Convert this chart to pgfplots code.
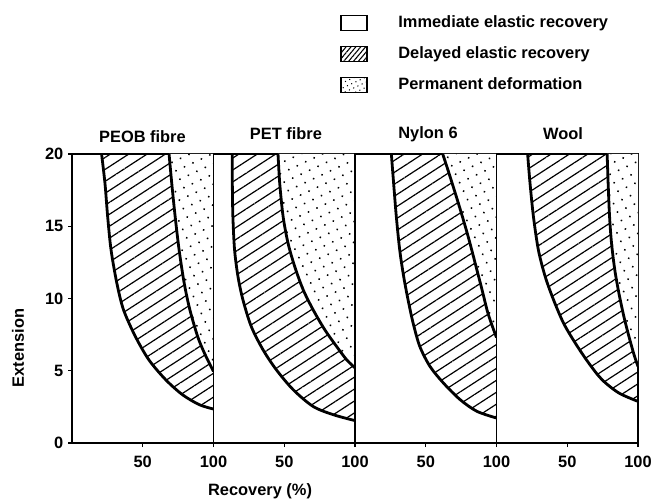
\documentclass[border=0pt]{standalone}
\usepackage{fontspec}
\setmainfont{Liberation Sans}
\usepackage{pgfplots}
\pgfplotsset{compat=1.18}
\usepackage{pgfplotstable}
\usetikzlibrary{patterns.meta}

\newcommand\lbl{\bfseries\fontsize{12.3}{14}\selectfont}

% curves: x = recovery (%), y = extension; first row closes the fill along the border
\pgfplotstableread{
x y
100 20
20.9 20
23.3 17.97
25.2 15.67
27.6 13.36
31.7 11.06
36.4 9.22
44.8 7.37
54.3 5.76
66.2 4.38
78.1 3.34
90.0 2.65
100 2.35
}\peobL
\pgfplotstableread{
x y
100 20
68.6 20
70.5 17.97
72.9 15.67
75.7 13.36
79.3 11.06
83.3 9.22
88.8 7.37
93.6 6.22
100 4.95
}\peobR
\pgfplotstableread{
x y
100 20
13.2 20
13.3 17.97
13.7 15.67
14.9 13.36
17.3 11.52
20.8 9.91
26.7 8.06
35.0 6.45
44.4 5.07
56.3 3.69
70.4 2.53
84.6 1.96
100 1.55
}\petL
\pgfplotstableread{
x y
100 20
45.6 20
46.8 17.97
49.2 15.67
52.7 13.82
57.4 12.21
63.4 10.6
70.4 9.22
78.7 7.83
87.0 6.68
94.1 5.76
100 5.2
}\petR
\pgfplotstableread{
x y
100 20
25.7 20
27.3 17.97
29.2 15.67
31.6 13.36
34.4 11.52
37.5 9.91
41.1 8.29
45.8 6.68
53.0 5.30
62.5 4.15
74.3 3.0
86.2 2.19
100 1.73
}\nylonL
\pgfplotstableread{
x y
100 20
62.0 20
66.0 18.8
70.5 17.4
75.5 15.8
80.5 14.1
85.3 12.3
89.8 10.6
93.6 9.1
97.0 8.1
100 7.3
}\nylonR
\pgfplotstableread{
x y
100 20
22.0 20
23.7 17.97
26.1 15.67
29.6 13.36
34.4 11.52
40.3 9.91
47.4 8.29
55.7 6.91
65.2 5.53
74.6 4.38
86.5 3.46
100 2.88
}\woolL
\pgfplotstableread{
x y
100 20
78.2 20
78.9 17.97
79.9 15.67
81.3 13.82
83.6 11.98
86.5 10.37
90.0 8.76
93.6 7.37
97.2 6.11
100 5.3
}\woolR

\tikzset{
  hatch/.style={pattern={Lines[angle=33, distance=7.5pt, line width=0.9pt]}},
  speckle/.style={preaction={fill=white}, pattern={Dots[angle=25, distance=7pt, radius=0.8pt]}},
}

\pgfplotsset{
  curve/.style={black, line width=2.1pt, smooth, tension=0.5, skip coords between index={0}{1}},
  legbox/.style={legend image code/.code={%
    \draw[draw=black, line width=1.1pt, ##1] (0pt,-5.6pt) rectangle (19.5pt,5.6pt);}},
  panel/.style={
    scale only axis, width=106.125pt, height=216.75pt, anchor=south west,
    xmin=0, xmax=100, ymin=0, ymax=20,
    xtick={50,100}, xtick pos=bottom, ytick=\empty,
    axis line style={line width=1.4pt},
    tick style={black, line width=1pt},
    tick align=outside, major tick length=3pt,
    /pgf/number format/assume math mode=true,
    tick label style={font=\lbl},
    xticklabel style={yshift=-3pt},
    label style={font=\lbl},
    every axis title shift=0pt,
    title style={font=\lbl, anchor=center},
  },
}

\begin{document}
\begin{tikzpicture}
\useasboundingbox (0,0) rectangle (490.5pt,375pt);

\begin{axis}[panel, at={(54pt,42.75pt)},
  ytick={0,5,10,15,20}, ytick pos=left,
  title={PEOB fibre}, title style={at={(axis description cs:0.498,1.059)}},
  ylabel={Extension}, ylabel style={at={(axis description cs:-0.382,0.329)}, anchor=center}]
\addplot[draw=none, hatch] table {\peobL};
\addplot[draw=none, speckle] table {\peobR};
\addplot[curve] table {\peobL};
\addplot[curve] table {\peobR};
\end{axis}

\begin{axis}[panel, at={(160.125pt,42.75pt)},
  title={PET fibre}, title style={at={(axis description cs:0.512,1.069)}},
  xlabel={Recovery (\%)}, xlabel style={at={(axis description cs:0.329,-0.183)}, anchor=base}]
\addplot[draw=none, hatch] table {\petL};
\addplot[draw=none, speckle] table {\petR};
\addplot[curve] table {\petL};
\addplot[curve] table {\petR};
\end{axis}

\begin{axis}[panel, at={(266.25pt,42.75pt)},
  title={Nylon 6}, title style={at={(axis description cs:0.516,1.069)}}]
\addplot[draw=none, hatch] table {\nylonL};
\addplot[draw=none, speckle] table {\nylonR};
\addplot[curve] table {\nylonL};
\addplot[curve] table {\nylonR};
\end{axis}

\begin{axis}[panel, at={(372.375pt,42.75pt)},
  title={Wool}, title style={at={(axis description cs:0.47,1.069)}},
  legend cell align=left,
  legend style={at={(axis description cs:-1.106,1.488)}, anchor=north west,
    draw=none, fill=none, inner sep=0pt, font=\lbl,
    row sep=8.9pt, /tikz/every odd column/.append style={column sep=21pt}}]
\addlegendimage{legbox, fill=white}
\addlegendentry{Immediate elastic recovery}
\addlegendimage{legbox, pattern={Lines[angle=50, distance=2.8pt, line width=0.8pt]}}
\addlegendentry{Delayed elastic recovery}
\addlegendimage{legbox, preaction={fill=white}, pattern={Dots[angle=25, distance=3.5pt, radius=0.55pt]}}
\addlegendentry{Permanent deformation}
\addplot[draw=none, hatch, forget plot] table {\woolL};
\addplot[draw=none, speckle, forget plot] table {\woolR};
\addplot[curve, forget plot] table {\woolL};
\addplot[curve, forget plot] table {\woolR};
\end{axis}
\end{tikzpicture}
\end{document}
